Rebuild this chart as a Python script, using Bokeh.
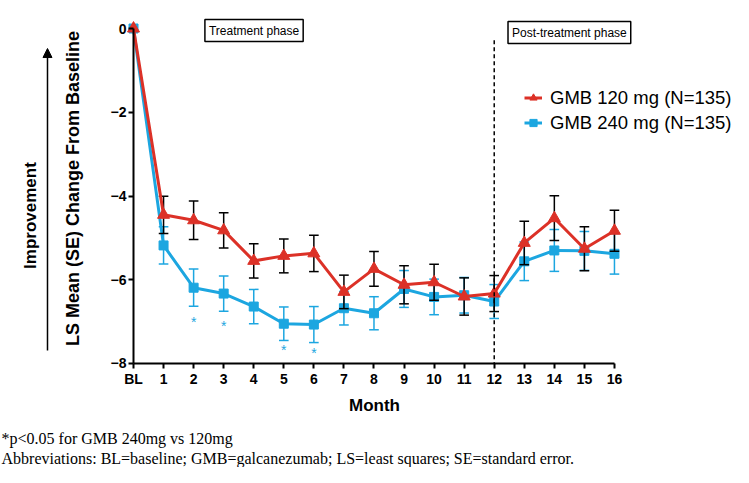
from bokeh.plotting import figure
from bokeh.models import (Range1d, Label, Arrow, NormalHead, Legend, LegendItem,
                          FixedTicker, ColumnDataSource)
from bokeh.core.properties import value
from bokeh.embed import file_html
from bokeh.resources import INLINE

# ---------------- data ----------------
months = [0, 1, 2, 3, 4, 5, 6, 7, 8, 9, 10, 11, 12, 13, 14, 15, 16]
month_labels = ["BL", "1", "2", "3", "4", "5", "6", "7", "8", "9", "10",
                "11", "12", "13", "14", "15", "16"]
mean_120 = [0, -4.45, -4.58, -4.82, -5.55, -5.43, -5.37, -6.29, -5.74, -6.12,
            -6.06, -6.40, -6.33, -5.12, -4.53, -5.26, -4.83]
se_120 = [0, 0.445, 0.46, 0.42, 0.41, 0.405, 0.435, 0.40, 0.415, 0.455,
          0.43, 0.445, 0.43, 0.52, 0.535, 0.525, 0.49]
mean_240 = [0, -5.18, -6.19, -6.33, -6.64, -7.05, -7.07, -6.68, -6.80, -6.22,
            -6.41, -6.37, -6.52, -5.56, -5.30, -5.31, -5.38]
se_240 = [0, 0.445, 0.445, 0.42, 0.41, 0.40, 0.43, 0.40, 0.395, 0.44,
          0.425, 0.425, 0.405, 0.46, 0.50, 0.465, 0.485]
sig_months = [2, 3, 5, 6]
sig_y = [-6.95, -7.06, -7.64, -7.71]
y_ticks = [-8, -6, -4, -2, 0]
series_labels = ["GMB 120 mg (N=135)", "GMB 240 mg (N=135)"]

RED = "#DC3127"
BLUE = "#1CA6E0"
SANS = "Liberation Sans"
SERIF = "Liberation Serif"

# frame covers the whole canvas; axes are pinned with fixed_location
p = figure(width=733, height=467,
           x_range=Range1d(-4.4245, 19.96), y_range=Range1d(-10.4836, 0.6687),
           output_backend="svg", toolbar_location=None,
           min_border_left=0, min_border_right=0, min_border_top=0, min_border_bottom=0)
p.outline_line_color = None
p.xgrid.visible = False
p.ygrid.visible = False

for ax in (p.xaxis[0], p.yaxis[0]):
    ax.axis_line_width = 2
    ax.axis_line_color = "black"
    ax.major_tick_line_width = 2
    ax.major_tick_line_color = "black"
    ax.major_tick_in = 0
    ax.major_tick_out = 5
    ax.minor_tick_line_color = None
    ax.major_label_text_font = SANS
    ax.major_label_text_font_style = "bold"
    ax.major_label_text_font_size = "14px"
    ax.major_label_text_color = "black"
    ax.major_label_standoff = 3

p.xaxis.fixed_location = -8
p.xaxis.bounds = (0, 16)
p.xaxis.ticker = FixedTicker(ticks=months)
p.xaxis.major_label_overrides = {m: l for m, l in zip(months, month_labels)}
p.yaxis.fixed_location = 0
p.yaxis.bounds = (-8, 0)
p.yaxis.ticker = FixedTicker(ticks=y_ticks)
p.yaxis.major_label_standoff = 2


def err_source(means, ses):
    xs = [m for m, s in zip(months, ses) if s > 0]
    mu = [v for v, s in zip(means, ses) if s > 0]
    ss = [s for s in ses if s > 0]
    return ColumnDataSource(dict(
        x=xs, lo=[a - b for a, b in zip(mu, ss)], hi=[a + b for a, b in zip(mu, ss)],
        cl=[x - 0.16 for x in xs], cr=[x + 0.16 for x in xs]))


def draw_series(means, ses, color, err_color, marker, size):
    es = err_source(means, ses)
    p.segment(x0="x", y0="lo", x1="x", y1="hi", source=es, line_color=err_color, line_width=1.5)
    p.segment(x0="cl", y0="lo", x1="cr", y1="lo", source=es, line_color=err_color, line_width=1.5)
    p.segment(x0="cl", y0="hi", x1="cr", y1="hi", source=es, line_color=err_color, line_width=1.5)
    ln = p.line(months, means, line_color=color, line_width=3)
    sc = p.scatter(months, means, marker=marker, size=size, fill_color=color, line_color=color)
    return ln, sc


ln240, sc240 = draw_series(mean_240, se_240, BLUE, BLUE, "square", 9)
ln120, sc120 = draw_series(mean_120, se_120, RED, "black", "triangle", 12)

# significance stars
p.text(x=sig_months, y=sig_y, text=["*"] * len(sig_months), text_color=BLUE,
       text_font=value(SANS), text_font_size="14px", text_align="center",
       text_baseline="middle", y_offset=2)

# end of treatment line
p.segment(x0=[12], y0=[-0.28], x1=[12], y1=[-8], line_color="black",
          line_width=1.5, line_dash="4 3")

# phase labels
for x, y, t in [(4.01, -0.048, "Treatment phase"), (14.5, -0.096, "Post-treatment phase")]:
    p.add_layout(Label(x=x, y=y, text=t, text_align="center", text_baseline="middle",
                       text_font=SANS, text_font_size="12px", text_color="black",
                       border_line_color="black", border_line_width=1.5,
                       background_fill_color="white", padding=4))

legend = Legend(items=[LegendItem(label=series_labels[0], renderers=[ln120, sc120]),
                       LegendItem(label=series_labels[1], renderers=[ln240, sc240])],
                location=(524, 332), background_fill_alpha=0, border_line_color=None,
                label_text_font=SANS, label_text_font_size="18.5px", label_text_color="black",
                glyph_width=18, glyph_height=25, label_height=25, spacing=0,
                padding=0, margin=0, label_standoff=8)
p.add_layout(legend)

# axis titles and annotations
p.add_layout(Label(x=8.017, y=-9.003, text="Month", text_align="center", text_baseline="middle",
                   text_font=SANS, text_font_style="bold", text_font_size="17px",
                   text_color="black"))
p.add_layout(Label(x=-2.029, y=-3.821, text="LS Mean (SE) Change From Baseline", angle=1.5708,
                   text_align="center", text_baseline="middle", text_color="black",
                   text_font=SANS, text_font_style="bold", text_font_size="18px"))
p.add_layout(Label(x=-3.426, y=-4.466, text="Improvement", angle=1.5708,
                   text_align="center", text_baseline="middle", text_color="black",
                   text_font=SANS, text_font_style="bold", text_font_size="17px"))
p.add_layout(Arrow(end=NormalHead(size=9, fill_color="black", line_color="black"),
                   x_start=-2.861, y_start=-7.69, x_end=-2.861, y_end=-0.478,
                   line_width=1.5, line_color="black"))
p.add_layout(Label(x=-4.39, y=-9.79, text="*p<0.05 for GMB 240mg vs 120mg",
                   text_align="left", text_baseline="middle", text_color="black",
                   text_font=SERIF, text_font_size="16px"))
p.add_layout(Label(x=-4.39, y=-10.27,
                   text="Abbreviations: BL=baseline; GMB=galcanezumab; LS=least squares; SE=standard error.",
                   text_align="left", text_baseline="middle", text_color="black",
                   text_font=SERIF, text_font_size="16px"))

open("out.html", "w").write(file_html(p, INLINE))
